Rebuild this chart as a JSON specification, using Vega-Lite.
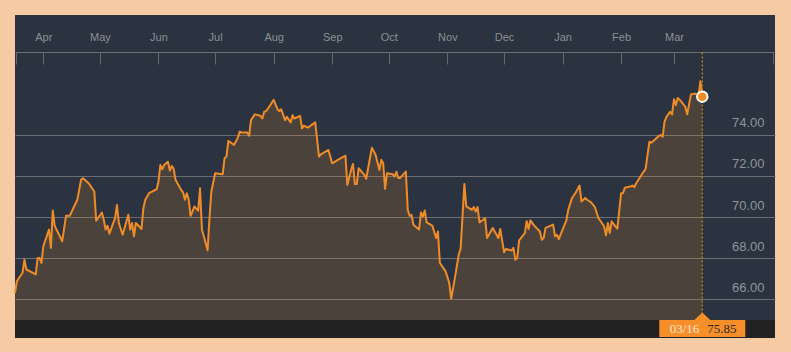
{
  "$schema": "https://vega.github.io/schema/vega-lite/v6.json",
  "width": 760,
  "height": 323,
  "autosize": {"type": "none"},
  "padding": {"left": 15, "top": 15, "right": 16, "bottom": 14},
  "background": "#f6cba3",
  "config": {"view": {"fill": "#2a333f", "stroke": null}, "font": "Liberation Sans"},
  "datasets": {
    "prices": [
      {"date":"2017-03-17","price":66.32},{"date":"2017-03-18","price":66.88},{"date":"2017-03-21","price":67.29},{"date":"2017-03-22","price":67.93},{"date":"2017-03-23","price":67.45},{"date":"2017-03-28","price":67.21},{"date":"2017-03-29","price":68.01},{"date":"2017-03-30","price":68.01},{"date":"2017-03-31","price":67.77},
      {"date":"2017-04-01","price":68.58},{"date":"2017-04-04","price":69.39},{"date":"2017-04-05","price":68.5},{"date":"2017-04-06","price":70.32},{"date":"2017-04-07","price":69.58},{"date":"2017-04-11","price":68.82},{"date":"2017-04-13","price":70.06},{"date":"2017-04-15","price":70.06},{"date":"2017-04-19","price":70.84},{"date":"2017-04-21","price":71.81},{"date":"2017-04-22","price":71.89},{"date":"2017-04-25","price":71.64},{"date":"2017-04-28","price":71.24},{"date":"2017-04-29","price":69.82},
      {"date":"2017-05-02","price":70.22},{"date":"2017-05-03","price":69.87},{"date":"2017-05-04","price":69.39},{"date":"2017-05-05","price":69.58},{"date":"2017-05-06","price":69.19},{"date":"2017-05-09","price":69.95},{"date":"2017-05-10","price":70.59},{"date":"2017-05-11","price":69.71},{"date":"2017-05-13","price":69.14},{"date":"2017-05-16","price":70.11},{"date":"2017-05-17","price":69.39},{"date":"2017-05-18","price":69.71},{"date":"2017-05-19","price":69.06},{"date":"2017-05-20","price":69.71},{"date":"2017-05-23","price":69.42},{"date":"2017-05-24","price":70.43},{"date":"2017-05-25","price":70.84},{"date":"2017-05-27","price":71.16},{"date":"2017-05-31","price":71.35},
      {"date":"2017-06-01","price":71.73},{"date":"2017-06-02","price":72.53},{"date":"2017-06-03","price":72.32},{"date":"2017-06-04","price":72.53},{"date":"2017-06-06","price":72.69},{"date":"2017-06-07","price":72.26},{"date":"2017-06-08","price":72.48},{"date":"2017-06-09","price":72.35},{"date":"2017-06-10","price":71.81},{"date":"2017-06-13","price":71.32},{"date":"2017-06-14","price":71.2},{"date":"2017-06-15","price":70.84},{"date":"2017-06-16","price":71.16},{"date":"2017-06-17","price":70.84},{"date":"2017-06-18","price":70.06},{"date":"2017-06-19","price":70.27},{"date":"2017-06-20","price":70.51},{"date":"2017-06-22","price":70.31},{"date":"2017-06-23","price":71.4},{"date":"2017-06-24","price":69.39},{"date":"2017-06-27","price":68.38},{"date":"2017-06-28","price":69.95},{"date":"2017-06-29","price":71.24},
      {"date":"2017-07-01","price":72.13},{"date":"2017-07-05","price":72.08},{"date":"2017-07-06","price":72.86},{"date":"2017-07-07","price":72.94},{"date":"2017-07-08","price":73.7},{"date":"2017-07-11","price":73.5},{"date":"2017-07-13","price":73.86},{"date":"2017-07-14","price":74.15},{"date":"2017-07-15","price":74.11},{"date":"2017-07-18","price":74.11},{"date":"2017-07-19","price":73.95},{"date":"2017-07-20","price":74.71},{"date":"2017-07-22","price":74.99},{"date":"2017-07-25","price":74.92},{"date":"2017-07-26","price":74.79},{"date":"2017-07-27","price":75.12},{"date":"2017-07-28","price":75.15},{"date":"2017-07-30","price":75.41},
      {"date":"2017-08-01","price":75.7},{"date":"2017-08-03","price":75.24},{"date":"2017-08-04","price":75.15},{"date":"2017-08-05","price":75.24},{"date":"2017-08-07","price":74.71},{"date":"2017-08-08","price":74.87},{"date":"2017-08-10","price":74.6},{"date":"2017-08-11","price":74.95},{"date":"2017-08-12","price":74.79},{"date":"2017-08-15","price":74.92},{"date":"2017-08-16","price":74.31},{"date":"2017-08-17","price":74.44},{"date":"2017-08-19","price":74.34},{"date":"2017-08-23","price":74.6},{"date":"2017-08-25","price":72.94},{"date":"2017-08-26","price":73.05},{"date":"2017-08-27","price":73.1},{"date":"2017-08-30","price":73.26},
      {"date":"2017-09-01","price":72.61},{"date":"2017-09-04","price":72.78},{"date":"2017-09-08","price":72.98},{"date":"2017-09-09","price":71.56},{"date":"2017-09-11","price":72.29},{"date":"2017-09-12","price":72.58},{"date":"2017-09-13","price":71.6},{"date":"2017-09-14","price":71.6},{"date":"2017-09-15","price":72.37},{"date":"2017-09-18","price":72.05},{"date":"2017-09-19","price":71.86},{"date":"2017-09-22","price":73.37},{"date":"2017-09-24","price":73.02},{"date":"2017-09-26","price":72.29},{"date":"2017-09-27","price":72.78},{"date":"2017-09-28","price":72.61},{"date":"2017-09-29","price":71.37},{"date":"2017-09-30","price":72.13},
      {"date":"2017-10-03","price":72.08},{"date":"2017-10-04","price":71.97},{"date":"2017-10-05","price":72.2},{"date":"2017-10-06","price":71.9},{"date":"2017-10-07","price":71.9},{"date":"2017-10-10","price":72.21},{"date":"2017-10-11","price":70.35},{"date":"2017-10-12","price":70.06},{"date":"2017-10-13","price":70.11},{"date":"2017-10-14","price":69.63},{"date":"2017-10-17","price":69.39},{"date":"2017-10-18","price":70.22},{"date":"2017-10-19","price":70.03},{"date":"2017-10-20","price":70.32},{"date":"2017-10-21","price":69.74},{"date":"2017-10-24","price":69.58},{"date":"2017-10-25","price":69.3},{"date":"2017-10-26","price":68.98},{"date":"2017-10-27","price":69.3},{"date":"2017-10-28","price":67.77},{"date":"2017-10-31","price":67.37},
      {"date":"2017-11-02","price":66.8},{"date":"2017-11-03","price":66.03},{"date":"2017-11-05","price":67.04},{"date":"2017-11-07","price":68.18},{"date":"2017-11-08","price":68.45},{"date":"2017-11-10","price":71.6},{"date":"2017-11-11","price":70.52},{"date":"2017-11-14","price":70.35},{"date":"2017-11-15","price":70.48},{"date":"2017-11-16","price":70.27},{"date":"2017-11-17","price":70.48},{"date":"2017-11-18","price":69.74},{"date":"2017-11-20","price":69.87},{"date":"2017-11-21","price":69.95},{"date":"2017-11-22","price":68.98},{"date":"2017-11-25","price":69.47},{"date":"2017-11-28","price":68.98},{"date":"2017-11-29","price":69.42},
      {"date":"2017-12-01","price":68.29},{"date":"2017-12-02","price":68.45},{"date":"2017-12-05","price":68.37},{"date":"2017-12-06","price":68.5},{"date":"2017-12-07","price":67.93},{"date":"2017-12-08","price":68.01},{"date":"2017-12-09","price":68.87},{"date":"2017-12-12","price":69.22},{"date":"2017-12-13","price":69.79},{"date":"2017-12-14","price":69.42},{"date":"2017-12-15","price":69.84},{"date":"2017-12-17","price":69.58},{"date":"2017-12-20","price":69.3},{"date":"2017-12-21","price":68.9},{"date":"2017-12-22","price":68.98},{"date":"2017-12-23","price":69.47},{"date":"2017-12-27","price":69.63},{"date":"2017-12-28","price":69.06},{"date":"2017-12-29","price":69.14},{"date":"2017-12-30","price":68.93},
      {"date":"2018-01-03","price":69.84},{"date":"2018-01-04","price":70.35},{"date":"2018-01-06","price":70.92},{"date":"2018-01-08","price":71.19},{"date":"2018-01-10","price":71.53},{"date":"2018-01-11","price":70.76},{"date":"2018-01-13","price":70.93},{"date":"2018-01-14","price":70.84},{"date":"2018-01-16","price":70.72},{"date":"2018-01-18","price":70.51},{"date":"2018-01-20","price":69.95},{"date":"2018-01-23","price":69.55},{"date":"2018-01-24","price":69.11},{"date":"2018-01-25","price":69.71},{"date":"2018-01-26","price":69.22},{"date":"2018-01-27","price":69.79},{"date":"2018-01-29","price":69.55},{"date":"2018-01-30","price":69.43},
      {"date":"2018-02-01","price":71.16},{"date":"2018-02-02","price":71.16},{"date":"2018-02-03","price":71.43},{"date":"2018-02-06","price":71.48},{"date":"2018-02-07","price":71.53},{"date":"2018-02-08","price":71.45},{"date":"2018-02-09","price":71.64},{"date":"2018-02-13","price":72.21},{"date":"2018-02-14","price":72.34},{"date":"2018-02-15","price":73.02},{"date":"2018-02-16","price":73.66},{"date":"2018-02-17","price":73.61},{"date":"2018-02-21","price":73.94},{"date":"2018-02-22","price":73.99},{"date":"2018-02-23","price":73.9},{"date":"2018-02-24","price":74.63},{"date":"2018-02-25","price":74.87},{"date":"2018-02-27","price":75.11},{"date":"2018-02-28","price":74.99},
      {"date":"2018-03-01","price":75.73},{"date":"2018-03-02","price":75.44},{"date":"2018-03-03","price":75.79},{"date":"2018-03-05","price":75.6},{"date":"2018-03-07","price":75.36},{"date":"2018-03-08","price":74.99},{"date":"2018-03-10","price":75.96},{"date":"2018-03-12","price":76.0},{"date":"2018-03-14","price":75.92},{"date":"2018-03-15","price":76.6},{"date":"2018-03-16","price":75.85}
    ],
    "last": [{"date":"2018-03-16","price":75.85,"label":"03/16"}]
  },
  "layer": [
    {
      "data": {"name": "prices"},
      "mark": {"type": "area", "color": "#f08c28", "opacity": 0.17},
      "encoding": {
        "x": {
          "field": "date", "type": "temporal",
          "scale": {"type": "utc", "domain": [1489708800000, 1524485664000]},
          "axis": {
            "orient": "top", "offset": -37, "title": null, "grid": false,
            "values": [1489754600000, 1491004800000, 1493596800000, 1496275200000, 1498867200000, 1501545600000, 1504224000000, 1506816000000, 1509494400000, 1512086400000, 1514764800000, 1517443200000, 1519862400000, 1524394064000],
            "labelExpr": "utcdate(datum.value) == 1 ? utcFormat(datum.value, '%b') : ''",
            "tickSize": -12, "tickColor": "#63676b", "tickWidth": 1,
            "domainColor": "#6b6e72", "domainWidth": 1,
            "labelPadding": 23.5, "labelBaseline": "alphabetic", "labelAlign": "center",
            "labelColor": "#8a8f96", "labelFontSize": 11, "labelFont": "Liberation Sans",
            "labelOverlap": false, "labelFlush": false
          }
        },
        "y": {
          "field": "price", "type": "quantitative",
          "scale": {"domain": [64.12, 79.82], "zero": false, "nice": false},
          "axis": {
            "orient": "right", "title": null, "values": [66, 68, 70, 72, 74], "format": ".2f",
            "domain": false, "ticks": false, "grid": true, "gridColor": "#6a6e72", "gridWidth": 1,
            "labelPadding": -11, "labelAlign": "right", "labelBaseline": "alphabetic", "labelOffset": -8,
            "labelColor": "#8f949a", "labelFontSize": 13, "labelFont": "Liberation Sans"
          }
        },
        "y2": {"datum": 65}
      }
    },
    {
      "data": {"name": "prices"},
      "mark": {"type": "line", "color": "#f08c28", "strokeWidth": 2, "strokeJoin": "round"},
      "encoding": {
        "x": {"field": "date", "type": "temporal"},
        "y": {"field": "price", "type": "quantitative"}
      }
    },
    {
      "data": {"name": "last"},
      "mark": {"type": "rule", "color": "#b8861b", "strokeDash": [2, 2], "strokeWidth": 1.3},
      "encoding": {
        "x": {"field": "date", "type": "temporal"},
        "y": {"datum": 78},
        "y2": {"datum": 65}
      }
    },
    {
      "data": {"name": "last"},
      "mark": {"type": "rect", "color": "#222222"},
      "encoding": {
        "y": {"datum": 65},
        "y2": {"datum": 64.12}
      }
    },
    {
      "data": {"name": "last"},
      "mark": {"type": "rect", "color": "#f68e29", "xOffset": -43, "x2Offset": 43},
      "encoding": {
        "x": {"field": "date", "type": "temporal"},
        "x2": {"field": "date"},
        "y": {"datum": 65},
        "y2": {"datum": 64.17}
      }
    },
    {
      "data": {"name": "last"},
      "mark": {"type": "point", "shape": "M-1,0L1,0L0,-0.91Z", "size": 256, "filled": true, "color": "#f68e29", "opacity": 1},
      "encoding": {
        "x": {"field": "date", "type": "temporal"},
        "y": {"datum": 65}
      }
    },
    {
      "data": {"name": "last"},
      "mark": {"type": "text", "align": "right", "baseline": "alphabetic", "dx": -3, "dy": 13.4, "font": "Liberation Serif", "fontSize": 13, "color": "#fdebd3"},
      "encoding": {
        "x": {"field": "date", "type": "temporal"},
        "y": {"datum": 65},
        "text": {"field": "label"}
      }
    },
    {
      "data": {"name": "last"},
      "mark": {"type": "text", "align": "left", "baseline": "alphabetic", "dx": 5, "dy": 13.4, "font": "Liberation Serif", "fontSize": 13, "color": "#2b2b2b"},
      "encoding": {
        "x": {"field": "date", "type": "temporal"},
        "y": {"datum": 65},
        "text": {"field": "price", "format": ".2f"}
      }
    },
    {
      "data": {"name": "last"},
      "mark": {"type": "circle", "size": 110, "fill": "#f28a22", "stroke": "#ffffff", "strokeWidth": 2, "opacity": 1},
      "encoding": {
        "x": {"field": "date", "type": "temporal"},
        "y": {"field": "price", "type": "quantitative"}
      }
    }
  ]
}
